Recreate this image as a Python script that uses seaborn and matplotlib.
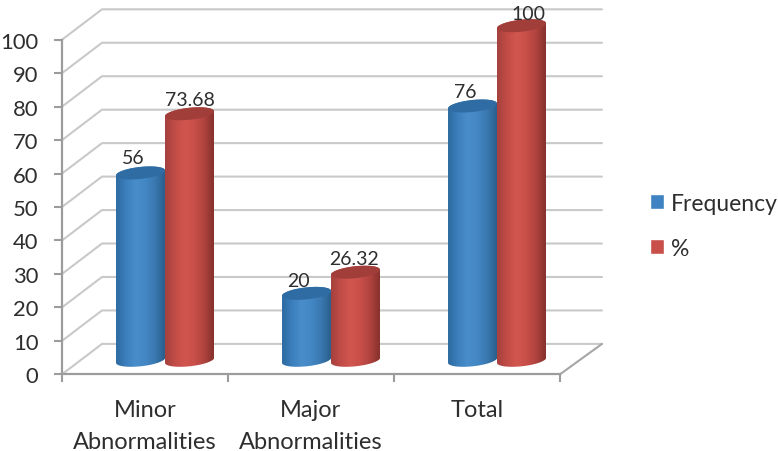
import numpy as np
import pandas as pd
import matplotlib
matplotlib.use("Agg")
import matplotlib.pyplot as plt
from matplotlib.colors import LinearSegmentedColormap
from matplotlib.patches import Polygon
import seaborn as sns

# Values
categories = ["Minor\nAbnormalities", "Major\nAbnormalities", "Total"]
series_names = ["Frequency", "%"]
frequency = [56, 20, 76]
percent = [73.68, 26.32, 100]
frequency_labels = ["56", "20", "76"]
percent_labels = ["73.68", "26.32", "100"]
y_ticks = list(range(0, 101, 10))

blue_stops = ["#2d6a9f", "#3b7fbd", "#4a8dcb", "#4387c5", "#3a78b0", "#2a5f8d"]
red_stops = ["#a5413d", "#c24c47", "#d25650", "#c94f4a", "#b0433e", "#86312d"]
cap_colors = {"Frequency": "#2f6ca3", "%": "#a23e3a"}
legend_colors = {"Frequency": "#3f83c2", "%": "#c94f4a"}
text_color = "#2e2e2e"

sns.set_theme(style="white")
plt.rcParams["font.family"] = ["Lato", "DejaVu Sans"]

W, H = 778, 452
fig = plt.figure(figsize=(W / 100, H / 100), dpi=100)

# one axes for the walls, a second one shifted into the depth for the cylinders
left, bottom, width, height = 62, H - 375.3, 498, 334.6
ax = fig.add_axes([left / W, bottom / H, width / W, height / H])
ax2 = fig.add_axes([(left + 20) / W, (bottom + 14) / H, width / W, height / H], zorder=3)
ax2.patch.set_alpha(0)

xlim = (-0.5, 2.5)
ylim = (0, 100)
px_x = 3 / width
px_y = 100 / height

# walls
depth_x, depth_y = 40 * px_x, 30.4 * px_y
right_end = xlim[1] + 42 * px_x
for t in y_ticks:
    ax.plot([xlim[0], xlim[0] + depth_x, right_end], [t, t + depth_y, t + depth_y],
            color="#c9c9c9", lw=1.5, clip_on=False, solid_joinstyle="miter")
ax.plot([xlim[1], right_end], [0, depth_y], color="#a6a6a6", lw=1.5, clip_on=False)

ax.set_xlim(xlim)
ax.set_ylim(ylim)
ax.set_yticks(y_ticks)
ax.set_xticks(range(3))
ax.set_xticklabels(categories, linespacing=1.62)
ax.set_xticks([-0.5, 0.5, 1.5, 2.5], minor=True)
ax.tick_params(axis="x", which="major", bottom=False, length=0, pad=18, labelsize=17, labelcolor=text_color)
ax.tick_params(axis="x", which="minor", bottom=True, length=6, width=1.5, color="#9c9c9c", direction="out")
ax.tick_params(axis="y", left=True, length=5.5, width=1.5, color="#9c9c9c", direction="out",
               pad=11.5, labelsize=15.8, labelcolor=text_color)
sns.despine(ax=ax, top=True, right=True)
ax.spines["left"].set_color("#9c9c9c")
ax.spines["bottom"].set_color("#9c9c9c")
ax.spines["left"].set_linewidth(1.6)
ax.spines["bottom"].set_linewidth(1.6)

# cylinders
df = pd.DataFrame({
    "category": categories * 2,
    "series": [series_names[0]] * 3 + [series_names[1]] * 3,
    "value": frequency + percent,
})
sns.barplot(data=df, x="category", y="value", hue="series", order=categories,
            hue_order=series_names, palette=legend_colors, width=0.59, gap=0,
            saturation=1, ax=ax2)

cap_b = 6 * px_y
cap_tilt = 2.5 * px_y
label_sets = [frequency_labels, percent_labels]
label_nudge_x = [[-7.5, -8, -7.5], [0.5, -1, 7]]
label_nudge_y = [[15, 12.5, 15], [14, 14, 12]]


def ellipse(cx, a, level, start, stop):
    t = np.linspace(start, stop, 60)
    return np.column_stack([cx + a * np.cos(t),
                            level + cap_b * np.sin(t) + cap_tilt * np.cos(t)])


gradients = [LinearSegmentedColormap.from_list("blue_cyl", blue_stops),
             LinearSegmentedColormap.from_list("red_cyl", red_stops)]
ramp = np.linspace(0, 1, 128).reshape(1, -1)

for s, container in enumerate(ax2.containers):
    for i, bar in enumerate(container):
        a = bar.get_width() / 2
        cx = bar.get_x() + a
        v = bar.get_height()
        body = np.vstack([ellipse(cx, a, v, 0, np.pi), ellipse(cx, a, 0, np.pi, 2 * np.pi)])
        outline = Polygon(body, closed=True, transform=ax2.transData, fc="none", ec="none")
        bar.set_clip_path(outline)
        bar.set_clip_box(fig.bbox)
        bar.set_zorder(2 + s)
        im = ax2.imshow(ramp, cmap=gradients[s], aspect="auto", zorder=2 + s,
                        extent=(cx - a, cx + a, -3 * cap_b, v + 2 * cap_b))
        im.set_clip_path(outline)
        im.set_clip_box(fig.bbox)
        ax2.add_patch(Polygon(ellipse(cx, a, v, 0, 2 * np.pi), closed=True, clip_on=False,
                              fc=cap_colors[series_names[s]], ec="none", zorder=2.5 + s))
        ax2.annotate(label_sets[s][i], (cx, v), xycoords="data", ha="center", va="center",
                     xytext=(label_nudge_x[s][i] * 0.72, label_nudge_y[s][i] * 0.72),
                     textcoords="offset points", fontsize=14, color=text_color, zorder=6)

ax2.set_xlim(xlim)
ax2.set_ylim(ylim)
ax2.set_axis_off()

sns.move_legend(ax2, loc="upper left", bbox_to_anchor=(629 / W, (H - 173) / H),
                bbox_transform=fig.transFigure, frameon=False, title=None,
                fontsize=16.5, handlelength=0.62, handleheight=0.6, handletextpad=0.3,
                labelspacing=1.05, labelcolor=text_color)

fig.savefig("out.png", dpi=100, facecolor="white")
